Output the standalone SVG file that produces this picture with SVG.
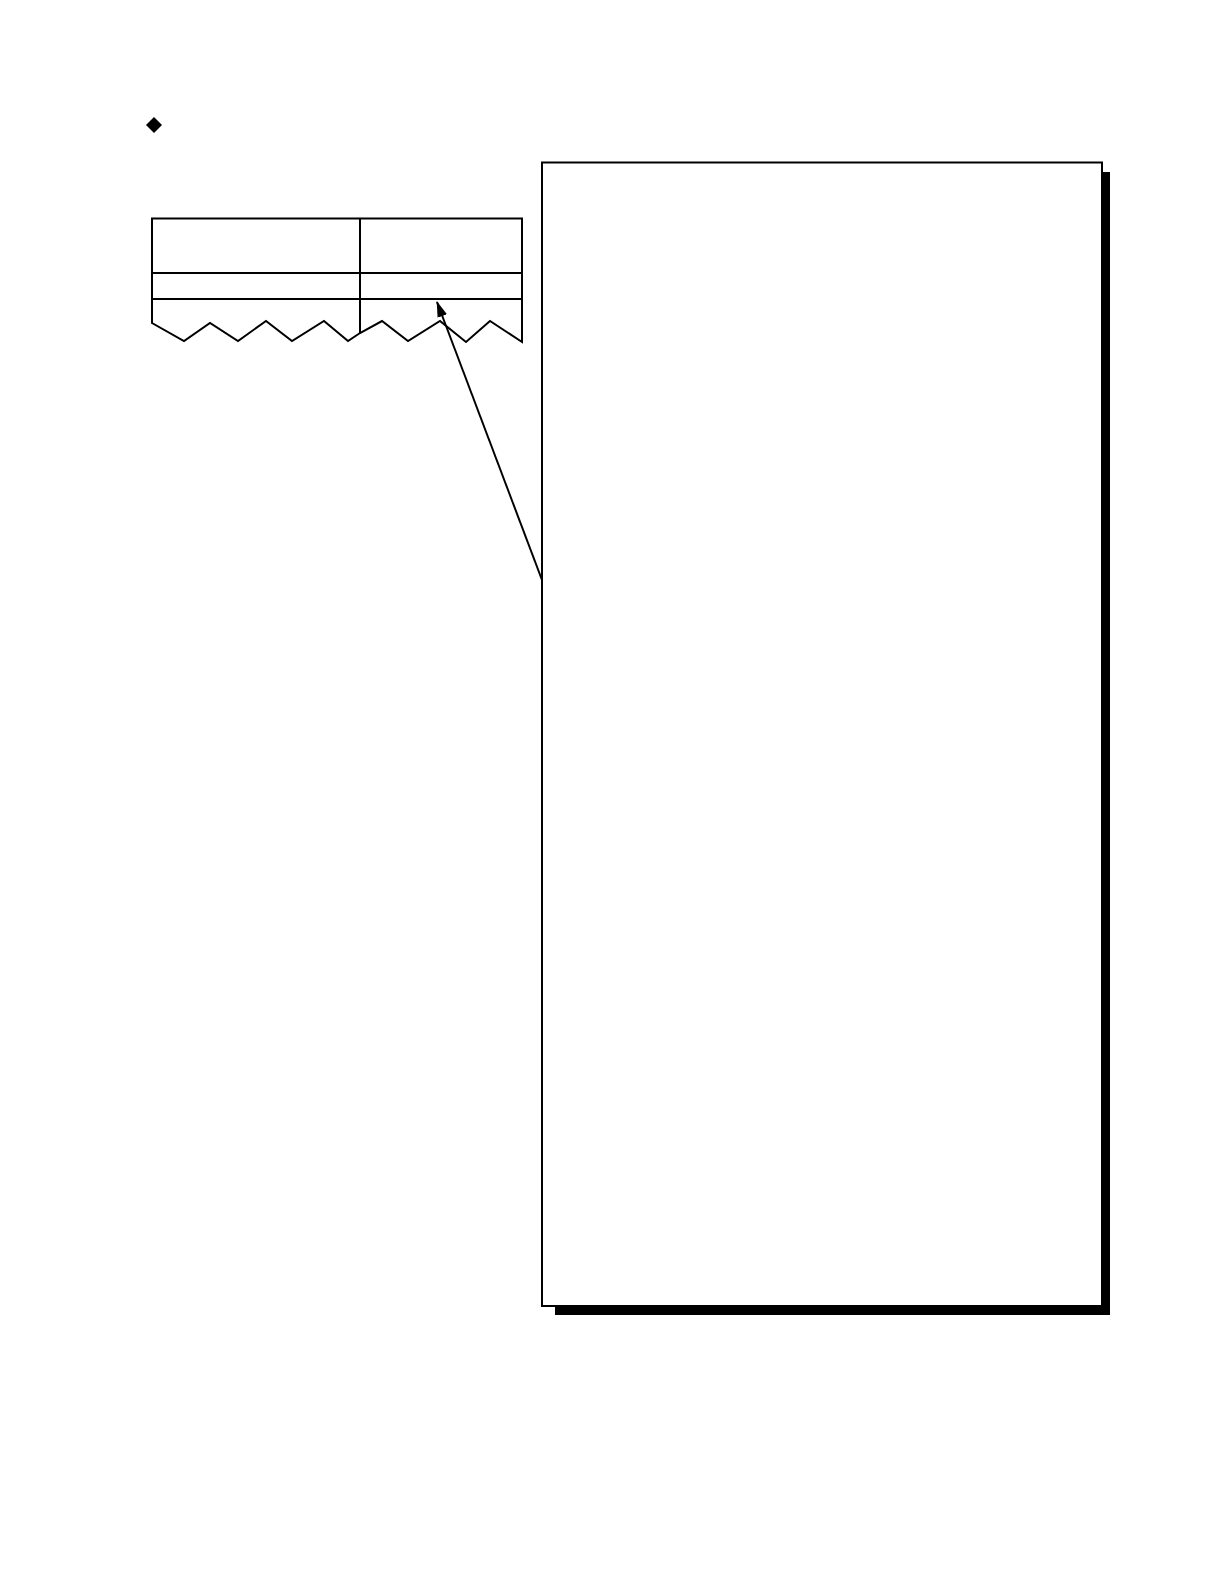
<svg xmlns="http://www.w3.org/2000/svg" width="1224" height="1584" viewBox="0 0 1224 1584">
<style>
.ln{fill:none;stroke:#000;stroke-width:2;stroke-linejoin:miter}
</style>
<defs>
<marker id="ah" markerWidth="16" markerHeight="10" refX="15" refY="5" orient="auto" markerUnits="userSpaceOnUse">
<path d="M0,0 L16,5 L0,10 z" fill="#000"/>
</marker>
</defs>
<rect width="1224" height="1584" fill="#fff"/>
<g id="bullet"><path d="M154,117 L162,125 L154,133 L146,125 z" fill="#000"/></g>
<g id="table">
<path class="ln" d="M152,323 L152,218.5 L522,218.5 L522,342 L490,321 L466,342 L440,321 L408,341 L382,321 L360,333 L348,341 L324,321 L292,341 L266,321 L238,341 L210,323 L184,341 z"/>
<line class="ln" x1="360" y1="218.5" x2="360" y2="333"/>
<line class="ln" x1="152" y1="273" x2="522" y2="273"/>
<line class="ln" x1="152" y1="299" x2="522" y2="299"/>
</g>
<g id="panel">
<rect x="555" y="172" width="555" height="1143" fill="#000"/>
<rect x="542" y="162.5" width="560" height="1143.5" fill="#fff" stroke="#000" stroke-width="2"/>
</g>
<g id="connectors">
<line class="ln" x1="542" y1="580" x2="437" y2="302" marker-end="url(#ah)"/>
</g>
</svg>
